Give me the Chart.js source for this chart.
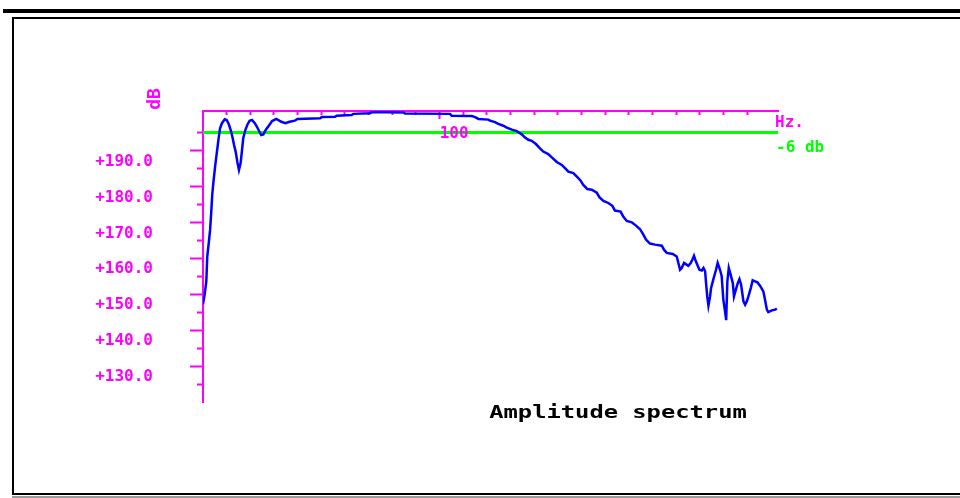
<!DOCTYPE html>
<html>
<head>
<meta charset="utf-8">
<title>Amplitude spectrum</title>
<script src="https://cdn.jsdelivr.net/npm/chart.js@4.4.1/dist/chart.umd.min.js"></script>
<style>
  html, body { margin: 0; padding: 0; background: #fff; }
  #spectrum { display: block; }
</style>
</head>
<body>
<canvas id="spectrum" width="960" height="498"></canvas>
<script>
// measured response: frequency (Hz) and level
const freq = [
  0.0, 0.7, 1.4, 1.8, 2.5, 3.0, 3.5, 3.9, 4.5, 5.2, 5.9, 6.6, 7.2, 8.0, 9.2, 10.0,
  10.9, 11.7, 12.4, 13.1, 13.8, 14.5, 15.2, 15.9, 16.5, 17.0, 17.9, 18.7, 19.7, 20.7,
  21.9, 22.8, 23.8, 24.6, 25.5, 26.5, 27.8, 29.2, 31.0, 33.1, 34.8, 36.6, 38.8, 39.9,
  49.5, 50.2, 55.8, 56.5, 62.8, 63.5, 70.6, 71.3, 84.7, 85.4, 104.4, 105.1, 113.6,
  115.0, 116.4, 120.6, 121.3, 123.4, 124.8, 126.9, 128.4, 130.5, 132.6, 134.7, 136.1,
  137.5, 138.9, 140.7, 142.4, 143.8, 145.9, 147.4, 149.5, 151.6, 153.0, 154.4, 156.5,
  158.2, 159.6, 160.7, 162.4, 164.3, 166.4, 167.5, 169.2, 171.3, 173.0, 174.1, 176.5,
  177.6, 179.1, 181.2, 183.0, 184.7, 186.1, 187.2, 188.9, 191.0, 193.9, 194.8, 196.0,
  198.5, 200.2, 200.9, 201.6, 202.3, 203.3, 205.1, 206.1, 206.8, 207.5, 208.2, 208.9,
  209.8, 210.8, 211.5, 212.2, 212.6, 213.1, 213.6, 214.3, 214.7, 215.7, 216.8, 217.5,
  218.5, 219.2, 219.9, 220.6, 221.1, 221.6, 222.2, 223.0, 223.9, 224.4, 225.2, 226.0,
  226.7, 227.4, 228.4, 229.1, 229.8, 230.5, 231.5, 232.3, 233.3, 234.3, 235.4, 236.8,
  237.5, 238.3, 238.9, 240.4, 241.8, 242.5
];
const level = [
  147.3, 149.9, 153.6, 160.5, 164.7, 167.9, 173.0, 177.7, 181.8, 186.0, 189.7, 193.4, 196.2, 197.6, 198.7, 198.5,
  197.3, 195.7, 193.9, 191.6, 189.7, 186.9, 184.6, 186.5, 190.2, 193.4, 195.7, 197.1, 198.3, 198.5,
  197.6, 196.6, 195.3, 194.3, 194.5, 195.7, 196.9, 198.2, 198.8, 198.0, 197.6, 198.0, 198.3, 198.8,
  199.0, 199.3, 199.4, 199.7, 199.9, 200.2, 200.4, 200.7, 200.6, 200.3, 200.2, 199.7, 199.6,
  199.3, 198.8, 198.6, 198.3, 197.9, 197.4, 196.9, 196.4, 195.8, 195.4, 194.5, 193.6,
  193.0, 192.7, 191.8, 190.6, 189.7, 189.0, 188.1, 186.8, 186.0, 185.1, 184.1, 183.7,
  182.6, 181.6, 180.4, 179.3, 179.1, 178.3, 177.0, 176.0, 175.4, 174.6, 173.3, 173.0,
  171.6, 170.4, 170.0, 169.1, 168.1, 166.6, 165.2, 164.1, 163.8, 163.5, 162.4, 161.5,
  161.2, 160.5, 158.7, 156.8, 157.3, 158.7, 157.9, 158.7, 159.6, 160.7, 159.3, 158.2,
  156.8, 156.6, 157.3, 156.4, 153.1, 149.4, 146.8, 149.4, 151.7, 154.2, 156.8, 158.7,
  156.8, 155.0, 148.5, 145.3, 142.8, 153.6, 157.3, 155.4, 153.1, 149.4, 151.3, 153.1,
  154.2, 152.7, 148.0, 147.1, 148.0, 149.4, 151.7, 153.9, 153.6, 153.3, 152.4, 150.8,
  148.5, 145.7, 145.0, 145.5, 145.7, 146.0
];

// -6 db reference line
const refLevel = 195;

const freqRange = [0, 243];
const levelRange = [120, 201];
const freqTicks = [10, 20, 30, 40, 50, 60, 70, 80, 90, 100, 110, 120, 130, 140, 150, 160, 170, 180, 190, 200, 210, 220, 230];
const freqLabels = { 100: '100' };
const levelTicks = [125, 130, 135, 140, 145, 150, 155, 160, 165, 170, 175, 180, 185, 190, 195];

const MAGENTA = '#ff00ff';
const GREEN = '#00ff00';
const BLUE = '#0000ff';
const MONO = '"DejaVu Sans Mono", "Liberation Mono", monospace';

// black page frame around the plot
const frame = {
  id: 'frame',
  beforeDraw(chart) {
    const ctx = chart.ctx;
    ctx.save();
    ctx.fillStyle = '#fff';
    ctx.fillRect(0, 0, chart.width, chart.height);
    ctx.fillStyle = '#000';
    ctx.fillRect(3, 9, 957, 4);
    ctx.fillRect(12, 17, 948, 2);
    ctx.fillRect(12, 17, 2, 478);
    ctx.fillRect(12, 493, 948, 2);
    ctx.fillStyle = '#9a9a9a';
    ctx.fillRect(12, 496, 948, 2);
    ctx.restore();
  }
};

// unit captions and the title
const captions = {
  id: 'captions',
  afterDraw(chart) {
    const { ctx, chartArea, scales } = chart;
    const yRef = scales.y.getPixelForValue(refLevel);
    ctx.save();
    ctx.font = 'bold 16px ' + MONO;
    ctx.textAlign = 'left';
    ctx.textBaseline = 'alphabetic';
    ctx.fillStyle = MAGENTA;
    ctx.fillText('Hz.', chartArea.right - 3, chartArea.top + 16);
    ctx.fillStyle = GREEN;
    ctx.fillText('-6 db', chartArea.right - 2, yRef + 19);

    ctx.fillStyle = MAGENTA;
    ctx.translate(chartArea.left - 48, chartArea.top - 12);
    ctx.rotate(-Math.PI / 2);
    ctx.font = 'bold 18px ' + MONO;
    ctx.textAlign = 'center';
    ctx.textBaseline = 'middle';
    ctx.fillText('dB', 0, 0);
    ctx.restore();

    ctx.save();
    ctx.fillStyle = '#000';
    ctx.font = 'bold 18px ' + MONO;
    ctx.textAlign = 'center';
    ctx.textBaseline = 'alphabetic';
    ctx.translate(618, 418);
    ctx.scale(1.32, 1);
    ctx.fillText('Amplitude spectrum', 0, 0);
    ctx.restore();
  }
};

const tickFont = { family: MONO, size: 16, weight: 'bold' };

new Chart(document.getElementById('spectrum'), {
  type: 'line',
  data: {
    datasets: [
      {
        data: freq.map((f, i) => ({ x: f, y: level[i] })),
        borderColor: BLUE,
        borderWidth: 2.5,
        pointRadius: 0,
        tension: 0,
        fill: false
      },
      {
        data: [{ x: freqRange[0], y: refLevel }, { x: freqRange[1], y: refLevel }],
        borderColor: GREEN,
        borderWidth: 3,
        pointRadius: 0,
        fill: false
      }
    ]
  },
  options: {
    responsive: false,
    animation: false,
    layout: { padding: { left: 0, top: 111, right: 182, bottom: 96 } },
    plugins: {
      legend: { display: false },
      tooltip: { enabled: false },
      title: { display: false }
    },
    scales: {
      x: {
        type: 'linear',
        min: freqRange[0],
        max: freqRange[1],
        position: { y: levelRange[1] },
        afterBuildTicks: s => { s.ticks = freqTicks.map(v => ({ value: v })); },
        grid: {
          drawOnChartArea: false,
          tickLength: 7,
          tickWidth: 2,
          tickColor: MAGENTA,
          tickBorderDash: c => (c.tick && c.tick.value === 100) ? [] : [3, 20]
        },
        border: { color: MAGENTA, width: 2 },
        ticks: {
          color: MAGENTA,
          font: tickFont,
          align: 'start',
          padding: 6,
          z: 1,
          maxRotation: 0,
          autoSkip: false,
          callback: v => freqLabels[v] || ''
        }
      },
      y: {
        type: 'linear',
        min: levelRange[0],
        max: levelRange[1],
        position: 'left',
        afterBuildTicks: s => { s.ticks = levelTicks.map(v => ({ value: v })); },
        afterFit: s => { s.width = 203; },
        grid: {
          drawOnChartArea: false,
          tickLength: 13,
          tickWidth: 2,
          tickColor: MAGENTA,
          tickBorderDash: c => (c.tick && c.tick.value % 10 === 0) ? [] : [0, 7, 6, 20]
        },
        border: { color: MAGENTA, width: 2 },
        ticks: {
          color: MAGENTA,
          font: tickFont,
          padding: 37,
          labelOffset: 11,
          autoSkip: false,
          callback: v => (v % 10 === 0) ? '+' + v.toFixed(1) : ''
        }
      }
    }
  },
  plugins: [frame, captions]
});
</script>
</body>
</html>
